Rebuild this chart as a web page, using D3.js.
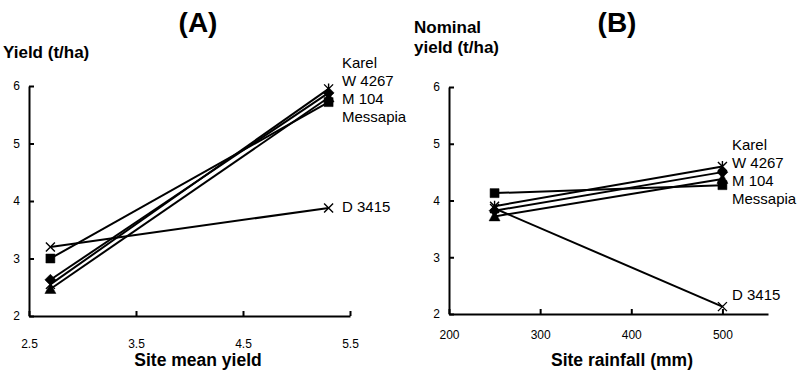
<!DOCTYPE html>
<html><head><meta charset="utf-8">
<script src="https://cdn.jsdelivr.net/npm/d3@7"></script>
<style>
body{margin:0;background:#fff;}
svg text{font-family:"Liberation Sans",Arial,sans-serif;fill:#000;}
</style></head>
<body>
<svg id="c" width="800" height="376"></svg>
<script>
// ---- data ----
const seriesNames = ["Karel", "W 4267", "M 104", "Messapia", "D 3415"];
const markerTypes = ["asterisk", "diamond", "triangle", "square", "cross"];
const siteMeanYield = [2.7, 5.3];
const yieldA = [
  [2.55, 5.95],
  [2.63, 5.88],
  [2.47, 5.80],
  [3.00, 5.72],
  [3.20, 3.88]
];
const siteRainfall = [250, 500];
const yieldB = [
  [3.90, 4.60],
  [3.82, 4.50],
  [3.72, 4.38],
  [4.13, 4.27],
  [3.86, 2.13]
];
const ticksA_x = [2.5, 3.5, 4.5, 5.5];
const ticksB_x = [200, 300, 400, 500];
const ticksY = [2, 3, 4, 5, 6];

const svg = d3.select("#c");

function markerPath(type, s) {
  const h = s / 2;
  switch (type) {
    case "square": return `M${-h},${-h}H${h}V${h}H${-h}Z`;
    case "diamond": return `M0,${-h-1}L${h+1},0L0,${h+1}L${-h-1},0Z`;
    case "triangle": return `M0,${-h-1}L${h+1},${h}L${-h-1},${h}Z`;
    case "cross": return `M${-h},${-h}L${h},${h}M${-h},${h}L${h},${-h}`;
    case "asterisk": return `M${-h},${-h}L${h},${h}M${-h},${h}L${h},${-h}M0,${-h-1}V${h+1}`;
  }
}

function panel(cfg) {
  const g = svg.append("g");
  const x = d3.scaleLinear().domain(cfg.xDomain).range(cfg.xRange);
  const y = d3.scaleLinear().domain([2, 6]).range(cfg.yRange);

  const xAxis = d3.axisBottom(x).tickValues(cfg.xTicks).tickSize(-5).tickSizeOuter(0)
    .tickFormat(cfg.xFormat);
  const gx = g.append("g").attr("transform", `translate(0,${cfg.yRange[0]})`).call(xAxis);
  gx.select(".domain").attr("stroke", "#000").attr("stroke-width", 2);
  gx.selectAll(".tick line").attr("stroke", "#000").attr("stroke-width", 2);
  gx.selectAll(".tick text").attr("font-size", 12).attr("dy", 0).attr("y", cfg.xLabelY - cfg.yRange[0]);

  const yAxis = d3.axisLeft(y).tickValues(ticksY).tickSize(-5).tickSizeOuter(0).tickFormat(d3.format("d"));
  const gy = g.append("g").attr("transform", `translate(${cfg.xRange[0]},0)`).call(yAxis);
  gy.select(".domain").attr("stroke", "#000").attr("stroke-width", 2);
  gy.selectAll(".tick line").attr("stroke", "#000").attr("stroke-width", 2);
  gy.selectAll(".tick text").attr("font-size", 12).attr("x", -9);
  svg.selectAll(".tick text").style("font-family", "Liberation Sans, Arial, sans-serif");

  const line = d3.line().x((d, i) => x(cfg.xs[i])).y(d => y(d));
  cfg.values.forEach((vals) => {
    g.append("path").attr("d", line(vals)).attr("fill", "none")
      .attr("stroke", "#000").attr("stroke-width", 2);
  });
  cfg.values.forEach((vals, k) => {
    const t = markerTypes[k];
    vals.forEach((v, i) => {
      const filled = t !== "cross" && t !== "asterisk";
      g.append("path").attr("d", markerPath(t, 9))
        .attr("transform", `translate(${x(cfg.xs[i])},${y(v)})`)
        .attr("fill", filled ? "#000" : "none")
        .attr("stroke", "#000").attr("stroke-width", filled ? 0.5 : 1.4);
    });
  });

  cfg.labelY.forEach((ly, k) => {
    g.append("text").attr("x", cfg.labelX).attr("y", ly).attr("font-size", 15)
      .text(seriesNames[k]);
  });

  g.append("text").attr("x", cfg.titleX).attr("y", 32).attr("text-anchor", "middle")
    .attr("font-size", 28).attr("font-weight", "bold").text(cfg.title);
  cfg.yTitle.forEach((t, i) => {
    g.append("text").attr("x", cfg.yTitleX).attr("y", cfg.yTitleY[i])
      .attr("font-size", 17).attr("font-weight", "bold").text(t);
  });
  g.append("text").attr("x", cfg.xTitleX).attr("y", 366).attr("text-anchor", "middle")
    .attr("font-size", 17.5).attr("font-weight", "bold").text(cfg.xTitle);
}

panel({
  xDomain: [2.5, 5.5], xRange: [29, 350], yRange: [316, 86],
  xTicks: ticksA_x, xFormat: d3.format(".1f"), xLabelY: 348,
  xs: siteMeanYield, values: yieldA,
  labelX: 342, labelY: [68, 86, 104, 122, 212],
  title: "(A)", titleX: 198,
  yTitle: ["Yield (t/ha)"], yTitleX: 3, yTitleY: [58],
  xTitle: "Site mean yield", xTitleX: 198
});

panel({
  xDomain: [200, 550], xRange: [449, 768], yRange: [314, 87],
  xTicks: ticksB_x, xFormat: d3.format("d"), xLabelY: 339,
  xs: siteRainfall, values: yieldB,
  labelX: 732, labelY: [150, 168, 186, 204, 300],
  title: "(B)", titleX: 617,
  yTitle: ["Nominal", "yield (t/ha)"], yTitleX: 414, yTitleY: [33, 53],
  xTitle: "Site rainfall (mm)", xTitleX: 622
});
</script>
</body></html>
